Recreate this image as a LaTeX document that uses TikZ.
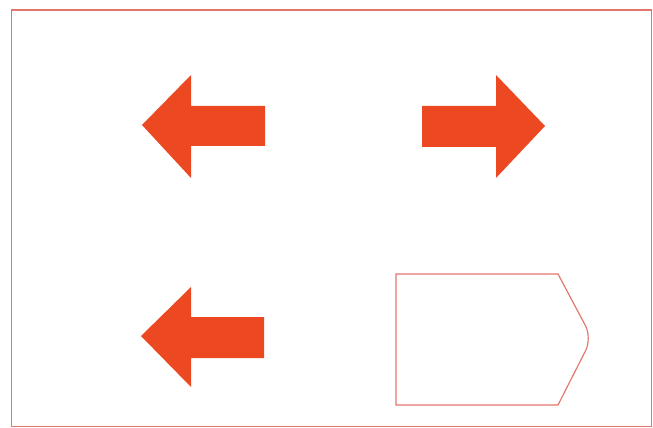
\documentclass[tikz,border=0pt]{standalone}
\usepackage{tikz}
\definecolor{arrowred}{RGB}{236,72,34}
\definecolor{framered}{RGB}{226,118,108}
\tikzset{
  fatarrow/.style={fill=arrowred},
  outlined/.style={draw=framered,line width=1.2pt}
}
\begin{document}
\begin{tikzpicture}[x=.03cm,y=-.03cm]
    \useasboundingbox (0,0) rectangle (653,428);
    % frame
    \draw[outlined] (11.5,10) rectangle (651.5,426.5);
    % arrows pointing left
    \fill[fatarrow] (142,125) -- (191,75) -- (191,106) -- (265,106) -- (265,146) -- (191,146) -- (191,178) -- cycle;
    \fill[fatarrow] (141,336) -- (191,287) -- (191,317) -- (264,317) -- (264,358) -- (191,358) -- (191,387) -- cycle;
    % arrow pointing right
    \fill[fatarrow] (545,126) -- (496,75) -- (496,106) -- (422,106) -- (422,147) -- (496,147) -- (496,178) -- cycle;
    % tag outline
    \draw[outlined,line width=1pt] (396,274) -- (558,274) [rounded corners=12pt] -- (592,338) [sharp corners] -- (558,405) -- (396,405) -- cycle;
\end{tikzpicture}
\end{document}
